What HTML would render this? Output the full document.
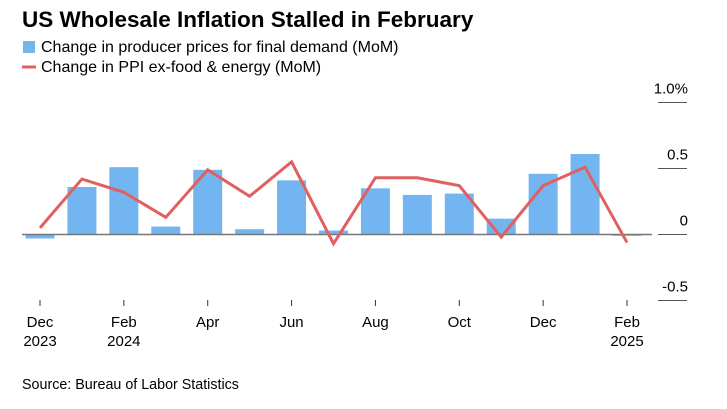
<!DOCTYPE html>
<html><head><meta charset="utf-8"><style>
body{margin:0;background:#fff;width:727px;height:404px;overflow:hidden;font-family:"Liberation Sans",sans-serif;}
</style></head><body>
<svg width="727" height="404" xmlns="http://www.w3.org/2000/svg">
<text x="22" y="27" font-size="22.5" font-weight="bold" fill="#000">US Wholesale Inflation Stalled in February</text>
<g>
<rect x="23" y="41" width="12" height="12" fill="#73b5f0"/>
<text x="41" y="52" font-size="16" fill="#000">Change in producer prices for final demand (MoM)</text>
<line x1="22" y1="67" x2="36" y2="67" stroke="#e06060" stroke-width="3"/>
<text x="41" y="72" font-size="16" fill="#000">Change in PPI ex-food &amp; energy (MoM)</text>
</g>
<g id="grid"></g><g id="bars"></g><g id="axis"></g><g id="lines"></g>
<text x="22" y="389" font-size="14.3" fill="#000">Source: Bureau of Labor Statistics</text>
</svg>
<script>
const months=["Dec","Jan","Feb","Mar","Apr","May","Jun","Jul","Aug","Sep","Oct","Nov","Dec","Jan","Feb"];
const barValues=[-0.03,0.36,0.51,0.06,0.49,0.04,0.41,0.03,0.35,0.30,0.31,0.12,0.46,0.61,-0.01];
const lineValues=[0.05,0.42,0.32,0.13,0.49,0.29,0.55,-0.07,0.43,0.43,0.37,-0.02,0.37,0.51,-0.06];
const yTicks=[1.0,0.5,0,-0.5];
const yTickLabels=["1.0%","0.5","0","-0.5"];
const xLabelIdx=[0,2,4,6,8,10,12,14];
const xLabels=["Dec","Feb","Apr","Jun","Aug","Oct","Dec","Feb"];
const xYears={0:"2023",2:"2024",14:"2025"};
const NS="http://www.w3.org/2000/svg";
const x=i=>40+i*(587/14);
const y=v=>234.5-v*132;
function mk(t,a,p){const e=document.createElementNS(NS,t);for(const k in a)e.setAttribute(k,a[k]);document.getElementById(p).appendChild(e);return e;}
yTicks.forEach((v,i)=>{
 const l=mk("line",{x1:658,x2:687,y1:y(v),y2:y(v),stroke:"#555","stroke-width":1},"grid");
 
 
 const t=mk("text",{x:688,y:y(v)-9,"font-size":15,"text-anchor":"end",fill:"#000"},"grid");
 t.textContent=yTickLabels[i];
 
 
});
barValues.forEach((v,i)=>{
 const r=mk("rect",{x:x(i)-14.5,y:Math.min(y(v),y(0)),width:29,height:Math.abs(y(v)-y(0)),fill:"#73b5f0"},"bars");
 
 
});
const z=mk("line",{x1:22,x2:652,y1:y(0),y2:y(0),stroke:"#777","stroke-width":1.5},"axis");


xLabelIdx.forEach((idx,k)=>{
 const tk=mk("line",{x1:x(idx),x2:x(idx),y1:300,y2:306,stroke:"#333","stroke-width":1},"axis");
 
 
 const t=mk("text",{x:x(idx),y:327,"font-size":15,"text-anchor":"middle",fill:"#000"},"axis");
 t.textContent=xLabels[k];
 
 
 if(xYears[idx]){
  const t2=mk("text",{x:x(idx),y:346,"font-size":15,"text-anchor":"middle",fill:"#000"},"axis");
  t2.textContent=xYears[idx];
  
  
 }
});
const pl=mk("polyline",{points:lineValues.map((v,i)=>x(i)+","+y(v)).join(" "),fill:"none",stroke:"#e06060","stroke-width":3,"stroke-linejoin":"miter"},"lines");


</script>
</body></html>
